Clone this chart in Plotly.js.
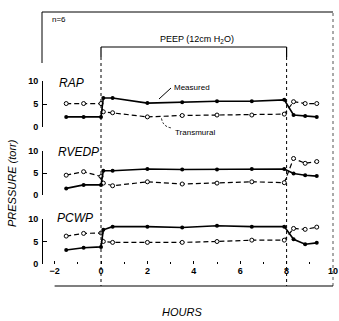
<!DOCTYPE html>
<html>
<head>
<meta charset="utf-8">
<script src="https://cdn.plot.ly/plotly-3.0.1.min.js"></script>
<style>html,body{margin:0;padding:0;background:#fff;}#chart{width:339px;height:321px;}</style>
</head>
<body>
<div id="chart"></div>
<script>
// ---- data ----
const hours = [-1.5, -0.75, 0, 0.1, 0.5, 2, 3.5, 5, 6.5, 7.9, 8.3, 8.8, 9.3];
const rapMeasured     = [2.2, 2.2, 2.2, 6.3, 6.3, 5.2, 5.4, 5.6, 5.6, 5.9, 2.6, 2.4, 2.2];
const rapTransmural   = [5.1, 5.1, 5.1, 3.3, 3.1, 2.2, 2.5, 2.6, 2.6, 2.8, 5.5, 5.1, 5.1];
const rvedpMeasured   = [1.5, 2.3, 2.3, 5.5, 5.5, 5.9, 5.8, 5.8, 5.9, 5.9, 4.9, 4.5, 4.3];
const rvedpTransmural = [4.5, 5.3, 4.2, 2.7, 2.1, 3.0, 2.5, 2.7, 3.0, 2.8, 8.3, 7.2, 7.6];
const pcwpMeasured    = [3.1, 3.6, 3.8, 7.6, 8.3, 8.3, 8.1, 8.5, 8.3, 8.3, 5.5, 4.4, 4.7];
const pcwpTransmural  = [6.2, 6.8, 6.9, 5.0, 4.8, 4.8, 4.8, 5.0, 5.3, 5.3, 7.9, 7.7, 8.2];
const panelNames = ["RAP", "RVEDP", "PCWP"];
const xTickVals = [-2, 0, 2, 4, 6, 8, 10];
const xMinorVals = [-1, 1, 3, 5, 7, 9];
const yTickVals = [0, 5, 10];
const peepStart = 0, peepEnd = 8;

// ---- layout helpers (pixel -> paper) ----
const L = 43, R = 333, T = 12, B = 286;
const px = p => (p - L) / (R - L);
const py = p => (B - p) / (B - T);
const FONT = "Liberation Sans, Arial, sans-serif";

function measured(y, ya) {
  return {x: hours, y: y, xaxis: 'x', yaxis: ya, type: 'scatter', mode: 'lines+markers',
    line: {color: '#000', width: 1.6}, marker: {color: '#000', size: 4},
    showlegend: false, hoverinfo: 'skip', cliponaxis: false};
}
function transmural(y, ya) {
  return {x: hours, y: y, xaxis: 'x', yaxis: ya, type: 'scatter', mode: 'lines+markers',
    line: {color: '#000', width: 1.2, dash: '5px,3px'},
    marker: {color: '#fff', size: 4, line: {color: '#000', width: 1}},
    showlegend: false, hoverinfo: 'skip', cliponaxis: false};
}

const data = [
  transmural(rapTransmural, 'y'), measured(rapMeasured, 'y'),
  transmural(rvedpTransmural, 'y2'), measured(rvedpMeasured, 'y2'),
  transmural(pcwpTransmural, 'y3'), measured(pcwpMeasured, 'y3')
];

function yax(d0, d1) {
  return {domain: [d0, d1], range: [0, 10], anchor: 'x', tickvals: yTickVals,
    showgrid: false, zeroline: false, showline: true, linecolor: '#000', linewidth: 1,
    ticks: 'inside', ticklen: 4, tickcolor: '#000', tickwidth: 1,
    tickfont: {family: FONT, size: 9, color: '#000', weight: 'bold'}, ticklabelstandoff: 2};
}

const shapes = [
  // frame
  {type: 'line', xref: 'paper', yref: 'paper', x0: px(42), x1: 1, y0: 1, y1: 1, line: {color: '#000', width: 1}},
  {type: 'line', xref: 'paper', yref: 'paper', x0: px(42), x1: px(42), y0: 1, y1: py(63), line: {color: '#000', width: 1}},
  {type: 'line', xref: 'paper', yref: 'paper', x0: 1, x1: 1, y0: 0, y1: 1, line: {color: '#555', width: 1, dash: 'dot'}},
  // x axis line from -2 to 10
  {type: 'line', xref: 'x', yref: 'paper', x0: -2, x1: 10, y0: 0, y1: 0, line: {color: '#000', width: 1.2}},
  // PEEP bracket
  {type: 'line', xref: 'x', yref: 'paper', x0: peepStart, x1: peepEnd, y0: py(47), y1: py(47), line: {color: '#000', width: 1.2}},
  {type: 'line', xref: 'x', yref: 'paper', x0: peepStart, x1: peepStart, y0: py(47), y1: py(57), line: {color: '#000', width: 1.2}},
  {type: 'line', xref: 'x', yref: 'paper', x0: peepEnd, x1: peepEnd, y0: py(47), y1: py(57), line: {color: '#000', width: 1.2}},
  {type: 'line', xref: 'x', yref: 'paper', x0: peepStart, x1: peepStart, y0: py(57), y1: 0, line: {color: '#000', width: 1, dash: '3px,3px'}},
  {type: 'line', xref: 'x', yref: 'paper', x0: peepEnd, x1: peepEnd, y0: py(57), y1: 0, line: {color: '#000', width: 1, dash: '3px,3px'}},
  // Measured pointer
  {type: 'line', xref: 'paper', yref: 'paper', x0: px(159), x1: px(171), y0: py(99), y1: py(88), line: {color: '#000', width: 1}},
  // Transmural pointer (dashed curve)
  {type: 'path', xref: 'paper', yref: 'paper',
   path: `M ${px(161.5)} ${py(118.5)} Q ${px(163)} ${py(127)} ${px(172)} ${py(128)}`,
   line: {color: '#000', width: 1, dash: '2px,2px'}}
];

const annFont = {family: FONT, size: 8, color: '#000'};
const annotations = [
  {xref: 'paper', yref: 'paper', x: px(50), y: py(20), xanchor: 'left', yanchor: 'middle', showarrow: false,
   text: 'n=6', font: {family: FONT, size: 8, color: '#000'}},
  {xref: 'paper', yref: 'paper', x: px(197), y: py(39), xanchor: 'center', yanchor: 'middle', showarrow: false,
   text: 'PEEP (12cm H<sub>2</sub>O)', font: {family: FONT, size: 9, color: '#000'}},
  {xref: 'paper', yref: 'paper', x: px(57), y: py(83), xanchor: 'left', yanchor: 'middle', showarrow: false,
   text: '<i>' + panelNames[0] + '</i>', font: {family: FONT, size: 12, color: '#000'}},
  {xref: 'paper', yref: 'paper', x: px(56), y: py(152), xanchor: 'left', yanchor: 'middle', showarrow: false,
   text: '<i>' + panelNames[1] + '</i>', font: {family: FONT, size: 12, color: '#000'}},
  {xref: 'paper', yref: 'paper', x: px(55), y: py(218), xanchor: 'left', yanchor: 'middle', showarrow: false,
   text: '<i>' + panelNames[2] + '</i>', font: {family: FONT, size: 12, color: '#000'}},
  {xref: 'paper', yref: 'paper', x: px(172), y: py(87), xanchor: 'left', yanchor: 'middle', showarrow: false,
   text: 'Measured', font: annFont},
  {xref: 'paper', yref: 'paper', x: px(173), y: py(132), xanchor: 'left', yanchor: 'middle', showarrow: false,
   text: 'Transmural', font: annFont},
  {xref: 'paper', yref: 'paper', x: px(12), y: py(183), xanchor: 'center', yanchor: 'middle', showarrow: false,
   textangle: -90, text: '<i>PRESSURE (torr)</i>', font: {family: FONT, size: 11, color: '#000'}},
  {xref: 'paper', yref: 'paper', x: px(182), y: py(312), xanchor: 'center', yanchor: 'middle', showarrow: false,
   text: '<i>HOURS</i>', font: {family: FONT, size: 11, color: '#000'}}
];

const layout = {
  width: 339, height: 321,
  margin: {l: L, r: 339 - R, t: T, b: 321 - B},
  paper_bgcolor: '#fff', plot_bgcolor: '#fff',
  xaxis: {range: [-2.5, 10], tickvals: xTickVals, showgrid: false, zeroline: false, showline: false,
    ticks: 'inside', ticklen: 3, tickcolor: '#000', anchor: 'y3', position: 0,
    minor: {tickvals: xMinorVals, ticks: 'inside', ticklen: 2, tickcolor: '#000'},
    tickfont: {family: FONT, size: 9, color: '#000', weight: 'bold'}},
  yaxis: yax(py(127), py(81)),
  yaxis2: yax(py(195), py(151)),
  yaxis3: yax(py(264), py(219)),
  shapes: shapes,
  annotations: annotations,
  showlegend: false
};

Plotly.newPlot('chart', data, layout, {staticPlot: true, displayModeBar: false});
</script>
</body>
</html>
